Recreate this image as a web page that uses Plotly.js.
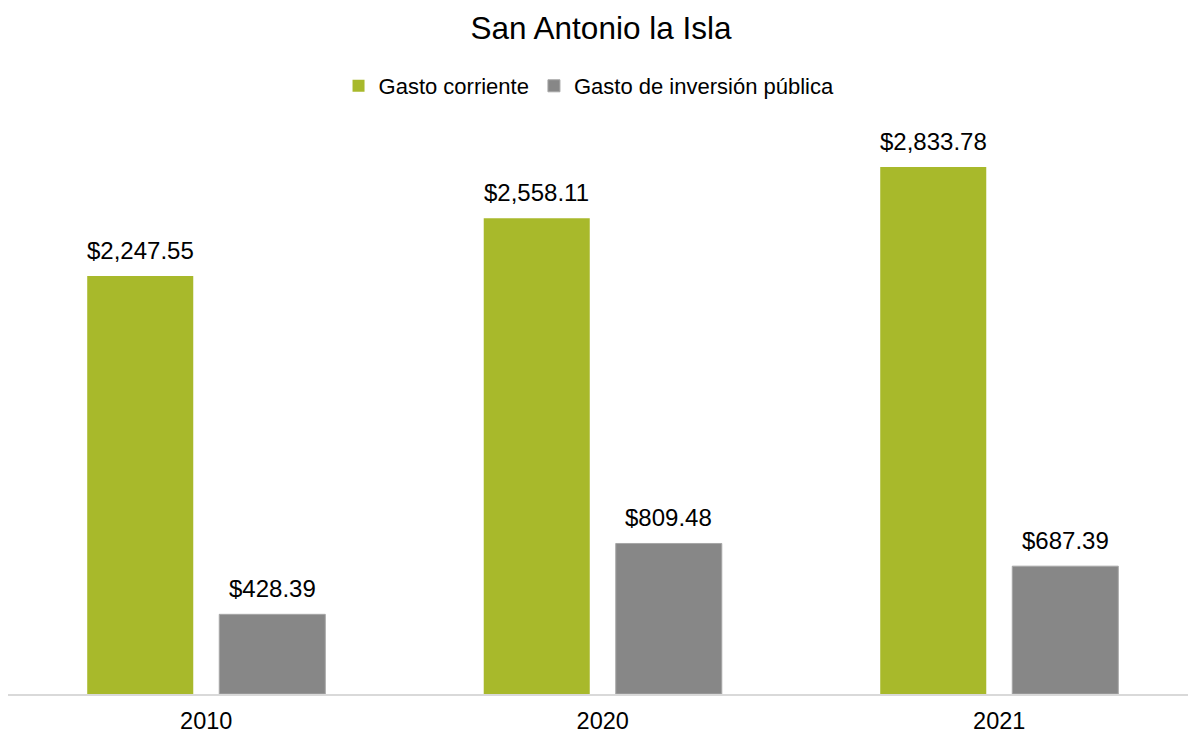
<!DOCTYPE html>
<html>
<head>
<meta charset="utf-8">
<script src="https://cdn.plot.ly/plotly-3.0.1.min.js"></script>
<style>html,body{margin:0;padding:0;background:#fff;}#chart{width:1188px;height:734px;}</style>
</head>
<body>
<div id="chart"></div>
<script>
const years = ['2010', '2020', '2021'];
const gastoCorriente = [2247.55, 2558.11, 2833.78];
const gastoInversion = [428.39, 809.48, 687.39];
const seriesNames = ['Gasto corriente', 'Gasto de inversión pública'];

const fmt = v => '$' + v.toLocaleString('en-US', {minimumFractionDigits: 2, maximumFractionDigits: 2});

const FONT = 'Liberation Sans, Arial, sans-serif';
const GREEN = '#A8B92B';
const GRAY = '#878787';

const traces = [
  {type: 'bar', name: seriesNames[0], x: years, y: gastoCorriente,
   marker: {color: GREEN}, hoverinfo: 'none'},
  {type: 'bar', name: seriesNames[1], x: years, y: gastoInversion,
   marker: {color: GRAY, line: {color: '#A6A6A6', width: 1}}, hoverinfo: 'none'}
];

const annotations = [];
years.forEach((yr, i) => {
  annotations.push({x: i, y: gastoCorriente[i], text: fmt(gastoCorriente[i]), showarrow: false,
    xref: 'x', yref: 'y', xanchor: 'center', yanchor: 'bottom', xshift: -66, yshift: 10,
    font: {family: FONT, size: 24, color: '#000'}});
  annotations.push({x: i, y: gastoInversion[i], text: fmt(gastoInversion[i]), showarrow: false,
    xref: 'x', yref: 'y', xanchor: 'center', yanchor: 'bottom', xshift: 66, yshift: 10,
    font: {family: FONT, size: 24, color: '#000'}});
});

const layout = {
  width: 1188, height: 734,
  margin: {l: 8, r: 0, t: 130, b: 40},
  paper_bgcolor: '#fff', plot_bgcolor: '#fff',
  font: {family: FONT, color: '#000'},
  title: {text: 'San Antonio la Isla', font: {family: FONT, size: 31.5, color: '#000'},
    x: 601/1188, xref: 'container', xanchor: 'center', y: 1 - 28/734, yanchor: 'middle', yref: 'container'},
  barmode: 'group', bargap: 0.334, bargroupgap: 0.197,
  showlegend: true,
  legend: {orientation: 'h', x: 0.4924, xanchor: 'center', y: 1 - 86/734, yanchor: 'middle', yref: 'container',
    font: {family: FONT, size: 22, color: '#000'}, itemwidth: 30, tracegroupgap: 0},
  xaxis: {type: 'category', range: [-0.5, 2.476], showgrid: false, zeroline: false,
    showline: true, linecolor: '#D9D9D9', linewidth: 2, ticks: '',
    tickfont: {family: FONT, size: 23.5, color: '#000'}, ticklabelstandoff: 5, fixedrange: true},
  yaxis: {range: [0, 3033], showgrid: false, zeroline: false, showline: false,
    showticklabels: false, ticks: '', fixedrange: true},
  annotations: annotations
};

Plotly.newPlot('chart', traces, layout, {displayModeBar: false, staticPlot: true});
</script>
</body>
</html>
